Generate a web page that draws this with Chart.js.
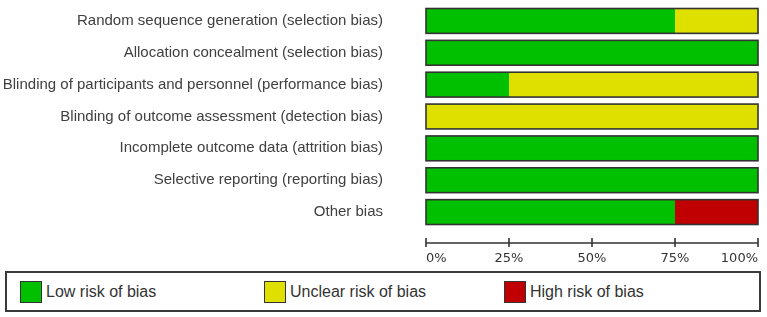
<!DOCTYPE html>
<html>
<head>
<meta charset="utf-8">
<script src="https://cdn.jsdelivr.net/npm/chart.js@4"></script>
<style>
  body { margin: 0; background: #fff; width: 767px; height: 317px; position: relative; overflow: hidden; }
  #wrap { position: absolute; left: 0; top: 0; width: 767px; height: 270px; }
  #legend { position: absolute; left: 5px; top: 271px; width: 752px; height: 37px; border: 2px solid #3a3a3a; }
  .item { position: absolute; top: 8px; height: 22px; display: flex; align-items: center; }
  .sw { width: 20px; height: 20px; border: 1px solid #333; margin-right: 4px; }
  .lbl { font-family: "Liberation Sans", Arial, sans-serif; font-size: 16px; color: #333; white-space: nowrap; }
</style>
</head>
<body>
<div id="wrap"><canvas id="grafico" width="767" height="270"></canvas></div>
<div id="legend"></div>
<script>
const categorias = [
  "Random sequence generation (selection bias)",
  "Allocation concealment (selection bias)",
  "Blinding of participants and personnel (performance bias)",
  "Blinding of outcome assessment (detection bias)",
  "Incomplete outcome data (attrition bias)",
  "Selective reporting (reporting bias)",
  "Other bias"
];
const baixoRisco = [75, 100, 25, 0, 100, 100, 75];
const riscoIncerto = [25, 0, 75, 100, 0, 0, 0];
const altoRisco = [0, 0, 0, 0, 0, 0, 25];
const series = ["Low risk of bias", "Unclear risk of bias", "High risk of bias"];
const tickLabels = ["0%", "25%", "50%", "75%", "100%"];
const tickValues = [0, 25, 50, 75, 100];

const cores = ["#00c000", "#e0e000", "#c00000"];
const legendLeft = [13, 257, 497];

// contorno das barras + eixo com marcas para cima e para baixo
const eixoPlugin = {
  id: "eixoPlugin",
  afterDatasetsDraw(chart) {
    const ctx = chart.ctx;
    const x = chart.scales.x;
    const x0 = x.getPixelForValue(0);
    const x1 = x.getPixelForValue(100);
    ctx.save();
    ctx.strokeStyle = "#333";
    ctx.lineWidth = 1.6;
    chart.getDatasetMeta(0).data.forEach((bar) => {
      ctx.strokeRect(x0, bar.y - bar.height / 2, x1 - x0, bar.height);
    });
    const ay = chart.chartArea.bottom + 15;
    ctx.beginPath();
    ctx.moveTo(x0, ay);
    ctx.lineTo(x1, ay);
    tickValues.forEach((v) => {
      const px = x.getPixelForValue(v);
      ctx.moveTo(px, ay - 5);
      ctx.lineTo(px, ay + 4);
    });
    ctx.stroke();
    ctx.restore();
  }
};

const ctx = document.getElementById("grafico").getContext("2d");
new Chart(ctx, {
  type: "bar",
  data: {
    labels: categorias,
    datasets: [baixoRisco, riscoIncerto, altoRisco].map((d, i) => ({
      label: series[i],
      data: d,
      backgroundColor: cores[i],
      borderWidth: 0,
      barPercentage: 0.78,
      categoryPercentage: 1
    }))
  },
  options: {
    indexAxis: "y",
    responsive: false,
    animation: false,
    layout: { padding: { top: 5, right: 9, left: 0, bottom: 0 } },
    plugins: { legend: { display: false }, tooltip: { enabled: false } },
    scales: {
      x: {
        stacked: true,
        min: 0,
        max: 100,
        afterBuildTicks: (s) => { s.ticks = tickValues.map((v) => ({ value: v })); },
        afterFit: (s) => { s.height = 42; s.paddingLeft = 0; s.paddingRight = 0; },
        grid: { display: false, drawTicks: false },
        border: { display: false },
        ticks: {
          align: "inner",
          padding: 23,
          color: "#333",
          font: { family: "DejaVu Sans", size: 13 },
          callback: (v, i) => tickLabels[i]
        }
      },
      y: {
        stacked: true,
        afterFit: (s) => { s.width = 426; s.paddingTop = 0; s.paddingBottom = 0; },
        grid: { display: false, drawTicks: false },
        border: { display: false },
        ticks: {
          padding: 43,
          color: "#404040",
          font: { family: "Liberation Sans", size: 15 }
        }
      }
    }
  },
  plugins: [eixoPlugin]
});

const legenda = document.getElementById("legend");
series.forEach((s, i) => {
  const item = document.createElement("div");
  item.className = "item";
  item.style.left = legendLeft[i] + "px";
  item.innerHTML = `<div class="sw" style="background:${cores[i]}"></div><span class="lbl">${s}</span>`;
  legenda.appendChild(item);
});
</script>
</body>
</html>
